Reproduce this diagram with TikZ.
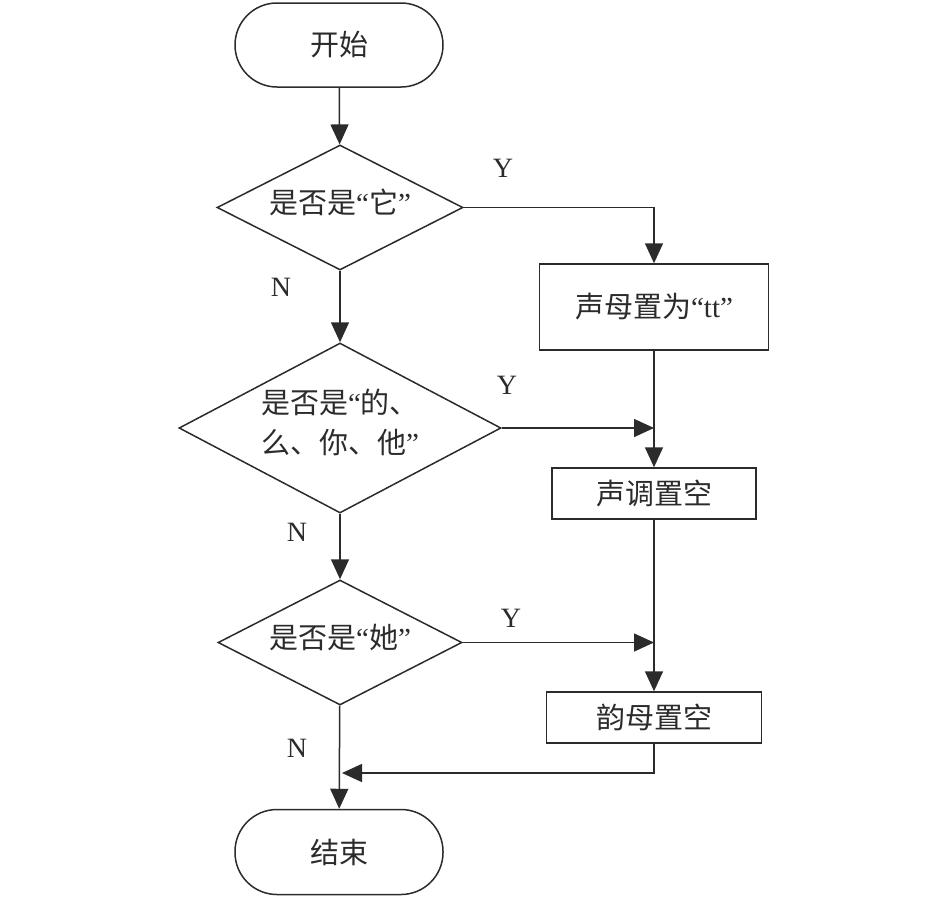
\documentclass[tikz,border=0pt]{standalone}
\usepackage{fontspec}
\setmainfont{Liberation Serif}
\newfontfamily\cjk{Noto Sans CJK SC}
\usetikzlibrary{arrows.meta,shapes.geometric}
\newcommand{\zh}[1]{{\cjk #1}}
\newcommand{\zs}[1]{\smash{\makebox[0pt]{\raisebox{-4pt}{\begin{tabular}{@{}l@{}}#1\end{tabular}}}}}
\definecolor{ink}{HTML}{2B2B2B}
\begin{document}
\begin{tikzpicture}[x=1pt,y=-1pt,line width=1.5pt,
  every node/.style={text=ink},
  txt/.style={font=\fontsize{29}{40}\selectfont},
  term/.style={txt,draw=ink,rectangle,rounded corners=42pt,minimum width=208pt,minimum height=84pt,inner sep=0pt},
  proc/.style={txt,draw=ink,rectangle,inner sep=0pt},
  dec/.style={txt,draw=ink,diamond,inner sep=0pt,aspect=2},
  yn/.style={font=\fontsize{28}{30}\selectfont},
  arr/.style={draw=ink,-{Triangle[length=20pt,width=18pt]}}]
\useasboundingbox (0,0) rectangle (945,898);
\node[term] (start) at (339,45) {\zh{开始}};
\node[dec,minimum width=246pt,minimum height=125pt] (d1) at (340,207.5) {\zs{\zh{是否是}“\zh{它}”}};
\node[proc,minimum width=229pt,minimum height=86pt] (b1) at (654,307) {\zh{声母置为}“tt”};
\node[dec,minimum width=322pt,minimum height=170pt] (d2) at (340,428) {\zs{\zh{是否是}“\zh{的、}\\\zh{么、你、他}”}};
\node[proc,minimum width=204pt,minimum height=51pt] (b2) at (654,493.5) {\zh{声调置空}};
\node[dec,minimum width=244pt,minimum height=125pt] (d3) at (340,642.5) {\zs{\zh{是否是}“\zh{她}”}};
\node[proc,minimum width=215pt,minimum height=51pt] (b3) at (654,717.5) {\zh{韵母置空}};
\node[term,minimum height=85pt] (end) at (339,852) {\zh{结束}};
\node[yn] (y1) at (503,168) {Y};
\node[yn] (n1) at (281,287) {N};
\node[yn] (y2) at (507,385) {Y};
\node[yn] (n2) at (297,532) {N};
\node[yn] (y3) at (511,618) {Y};
\node[yn] (n3) at (297,748) {N};
\coordinate (m) at (342,773);
\draw[arr] (start) -- (d1);
\draw[arr] (d1.east) -| (b1.north);
\draw[arr] (d1) -- (d2);
\draw[arr] (d2.east) -- (d2.east -| b2.north);
\draw[arr] (b1.south) -- (b2.north);
\draw[arr] (d2) -- (d3);
\draw[arr] (d3.east) -- (d3.east -| b3.north);
\draw[arr] (b2.south) -- (b3.north);
\draw[arr] (d3) -- (end);
\draw[arr] (b3.south) |- (m);
\end{tikzpicture}
\end{document}
